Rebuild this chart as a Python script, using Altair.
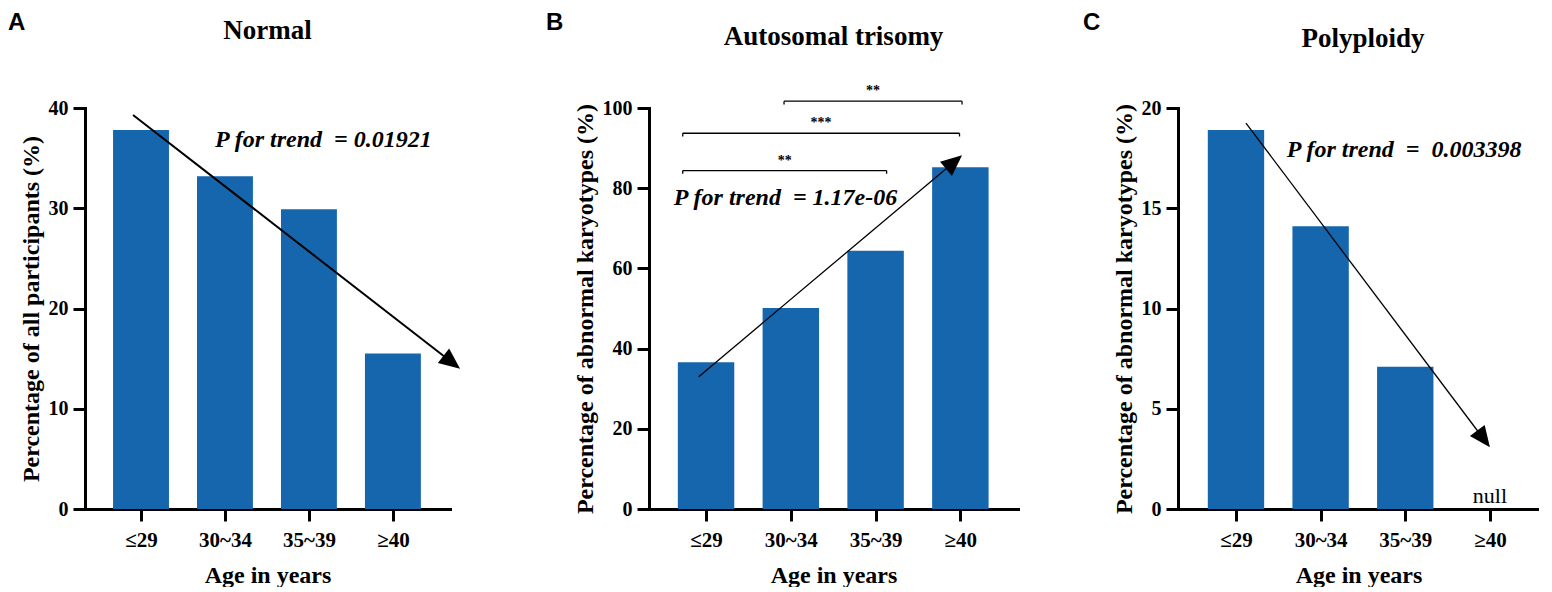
import json
import math
import altair as alt
import pandas as pd

# ---------------- data ----------------
categories = ["≤29", "30~34", "35~39", "≥40"]
panel_letters = ["A", "B", "C"]
panel_titles = ["Normal", "Autosomal trisomy", "Polyploidy"]
y_titles = [
    "Percentage of all participants (%)",
    "Percentage of abnormal karyotypes (%)",
    "Percentage of abnormal karyotypes (%)",
]
x_title = "Age in years"

normal_pct = [37.8, 33.2, 29.9, 15.5]
trisomy_pct = [36.6, 50.1, 64.4, 85.2]
polyploidy_pct = [18.9, 14.1, 7.1, None]

y_max = [40, 100, 20]
y_step = [10, 20, 5]

NB = "\u00a0"
trend_text = [
    "P for trend " + NB + "= 0.01921",
    "P for trend " + NB + "= 1.17e-06",
    "P for trend " + NB + "= " + NB + "0.003398",
]
trend_x = [0.88, -0.38, 0.60]
trend_y = [36.8, 77.6, 17.9]

# trend arrows (category index, percent)
arrow_x1 = [-0.095, -0.086, 0.118]
arrow_y1 = [39.3, 33.0, 19.25]
arrow_x2 = [3.80, 3.02, 3.00]
arrow_y2 = [14.0, 88.2, 3.08]

# significance brackets of panel B
bracket_x1 = [-0.275, -0.275, 0.92]
bracket_x2 = [2.13, 2.99, 3.02]
bracket_y = [84.4, 93.7, 101.7]
bracket_label = ["**", "***", "**"]

null_label = "null"

# ---------------- styling / layout ----------------
SERIF = "Liberation Serif"
SANS = "Liberation Sans"
BLUE = "#1666ae"
WIDTHS = [365, 369, 361]
HEIGHTS = [401, 401, 401]
XDOMS = [(-0.667, 3.68), (-0.673, 3.68), (-0.685, 3.58)]
LETTER_X = [-77, -103, -95]
LETTER_Y = [-78, -78, -78]
TITLE_X = [182.5, 184.5, 185]
TITLE_Y = [-68.9, -63.2, -61.3]
ARROW_W = [2.0, 1.3, 1.3]
HEAD_PATH = "M0,0L-2,-0.88L-2,0.88Z"
HEAD_LEN = 21


def make_panel(k, values, with_brackets=False):
    w, h = WIDTHS[k], HEIGHTS[k]
    xd = XDOMS[k]
    yd = [0, y_max[k]]
    xscale = alt.Scale(domain=list(xd), nice=False, zero=False)
    yscale = alt.Scale(domain=yd, nice=False, zero=True)
    label_expr = json.dumps(categories, ensure_ascii=False) + "[datum.value]"
    xaxis = alt.Axis(values=[0, 1, 2, 3], labelExpr=label_expr, title=x_title)
    yaxis = alt.Axis(values=list(range(0, y_max[k] + 1, y_step[k])), title=y_titles[k])

    df = pd.DataFrame({"idx": list(range(len(categories))), "cat": categories, "pct": values})
    base = alt.Chart(df)

    bars = (
        base.transform_filter("isValid(datum.pct)")
        .transform_calculate(lo="datum.idx - 0.333", hi="datum.idx + 0.333", base0="0")
        .mark_bar(color=BLUE)
        .encode(
            x=alt.X("lo:Q", scale=xscale, axis=xaxis),
            x2="hi:Q",
            y=alt.Y("pct:Q", scale=yscale, axis=yaxis),
            y2="base0:Q",
        )
    )

    def X(f):
        return alt.X(f, scale=xscale)

    def Y(f):
        return alt.Y(f, scale=yscale)

    # arrow
    px = w / (xd[1] - xd[0])
    py = h / (yd[1] - yd[0])
    dxp = (arrow_x2[k] - arrow_x1[k]) * px
    dyp = (arrow_y2[k] - arrow_y1[k]) * py
    length = math.hypot(dxp, dyp)
    angle = math.degrees(math.atan2(-dyp, dxp)) % 360
    shrink = (HEAD_LEN - 6) / length
    ex = arrow_x2[k] - (arrow_x2[k] - arrow_x1[k]) * shrink
    ey = arrow_y2[k] - (arrow_y2[k] - arrow_y1[k]) * shrink
    adf = pd.DataFrame({
        "x1": [arrow_x1[k]], "y1": [arrow_y1[k]],
        "x2": [ex], "y2": [ey],
        "tx": [arrow_x2[k]], "ty": [arrow_y2[k]],
    })
    line = alt.Chart(adf).mark_rule(color="black", strokeWidth=ARROW_W[k]).encode(
        x=X("x1:Q"), y=Y("y1:Q"), x2="x2:Q", y2="y2:Q"
    )
    head = alt.Chart(adf).mark_point(
        shape=HEAD_PATH, filled=True, size=HEAD_LEN * HEAD_LEN, angle=angle,
        color="black", opacity=1, strokeWidth=0,
    ).encode(x=X("tx:Q"), y=Y("ty:Q"))

    tdf = pd.DataFrame({"x": [trend_x[k]], "y": [trend_y[k]], "t": [trend_text[k]]})
    ptext = alt.Chart(tdf).mark_text(
        align="left", baseline="middle", font=SERIF, fontStyle="italic",
        fontWeight="bold", fontSize=24, color="black",
    ).encode(x=X("x:Q"), y=Y("y:Q"), text="t:N")

    nulls = (
        base.transform_filter("!isValid(datum.pct)")
        .transform_calculate(zero="0", lab="'" + null_label + "'")
        .mark_text(font=SERIF, fontSize=22, baseline="alphabetic", dy=-6, color="black")
        .encode(x=X("idx:Q"), y=Y("zero:Q"), text="lab:N")
    )

    labels = pd.DataFrame({"letter": [panel_letters[k]], "title": [panel_titles[k]]})
    letter = alt.Chart(labels).mark_text(
        align="left", baseline="alphabetic", font=SANS, fontWeight="bold", fontSize=24, color="black"
    ).encode(x=alt.value(LETTER_X[k]), y=alt.value(LETTER_Y[k]), text="letter:N")
    title = alt.Chart(labels).mark_text(
        align="center", baseline="alphabetic", font=SERIF, fontWeight="bold", fontSize=27, color="black"
    ).encode(x=alt.value(TITLE_X[k]), y=alt.value(TITLE_Y[k]), text="title:N")

    layers = [bars, line, head, ptext, nulls, letter, title]

    if with_brackets:
        bdf = pd.DataFrame({"x1": bracket_x1, "x2": bracket_x2, "y": bracket_y, "lab": bracket_label})
        bb = alt.Chart(bdf)
        hline = bb.mark_rule(color="black", strokeWidth=1.3).encode(x=X("x1:Q"), x2="x2:Q", y=Y("y:Q"))
        ltick = bb.transform_calculate(yt="datum.y - 0.8").mark_rule(color="black", strokeWidth=1.3).encode(
            x=X("x1:Q"), y=Y("y:Q"), y2="yt:Q")
        rtick = bb.transform_calculate(yt="datum.y - 0.8").mark_rule(color="black", strokeWidth=1.3).encode(
            x=X("x2:Q"), y=Y("y:Q"), y2="yt:Q")
        stars = bb.transform_calculate(xm="(datum.x1 + datum.x2) / 2").mark_text(
            font=SERIF, fontWeight="bold", fontSize=14, baseline="alphabetic", dy=-6, color="black"
        ).encode(x=X("xm:Q"), y=Y("y:Q"), text="lab:N")
        layers += [hline, ltick, rtick, stars]

    return alt.layer(*layers).properties(width=w, height=h)


pA = make_panel(0, normal_pct)
pB = make_panel(1, trisomy_pct, with_brackets=True)
pC = make_panel(2, polyploidy_pct)

chart = (
    alt.hconcat(alt.hconcat(pA, pB, spacing=85), pC, spacing=65)
    .properties(padding={"left": 0, "top": 3, "right": 0, "bottom": 0})
    .configure_view(stroke=None)
    .configure_axis(
        domainColor="black", domainWidth=3, domainCap="square",
        tickColor="black", tickWidth=3, tickSize=12,
        labelFont=SERIF, labelFontWeight="bold", labelFontSize=20, labelColor="black",
        titleFont=SERIF, titleFontWeight="bold", titleFontSize=24, titleColor="black",
        grid=False, labelFlush=False, labelOverlap=False,
    )
    .configure_axisX(labelPadding=8, titlePadding=13, labelFontSize=21)
    .configure_axisY(labelPadding=5, titlePadding=5)
)

chart.save("out.html", embed_options={"renderer": "svg", "actions": False})
